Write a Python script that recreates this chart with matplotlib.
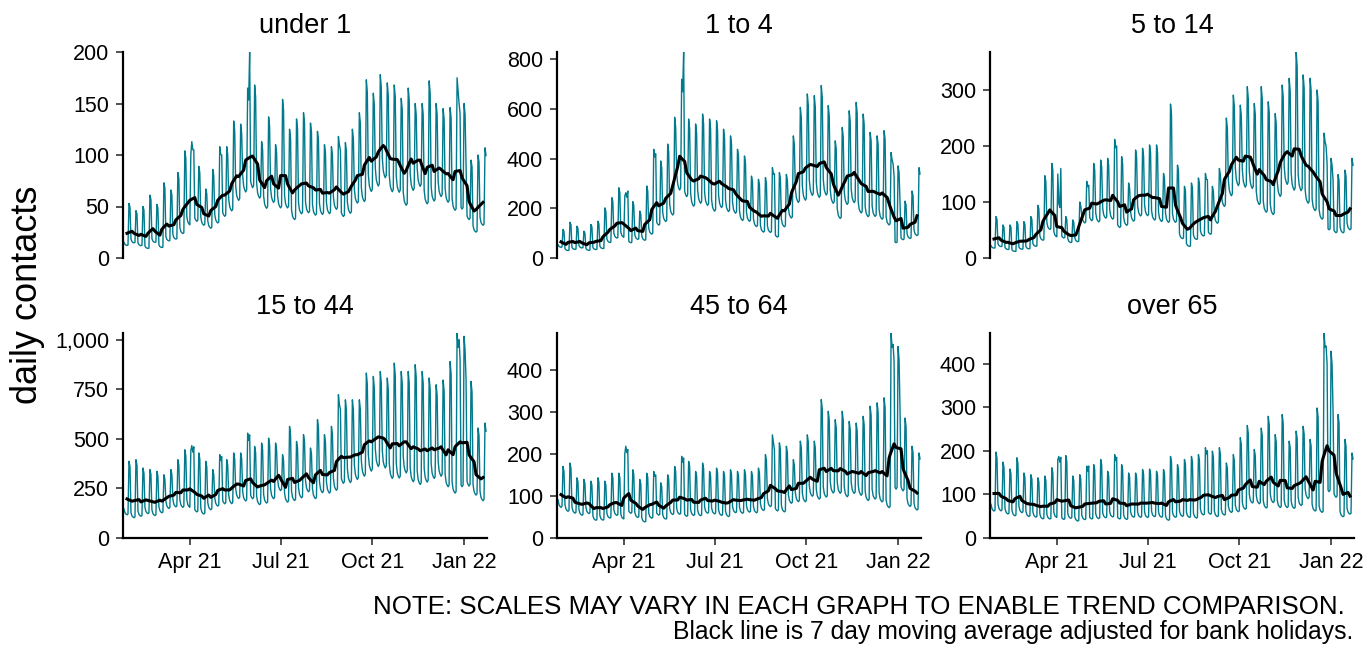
import matplotlib
matplotlib.use('Agg')
import matplotlib.pyplot as plt
import matplotlib.dates as mdates
import matplotlib.ticker as mticker
import numpy as np
import pandas as pd

plt.rcParams['font.family'] = ['Liberation Sans', 'DejaVu Sans']

# weekly data, week starting Monday 25 Jan 2021
start = pd.Timestamp('2021-01-25')

titles = ['under 1', '1 to 4', '5 to 14', '15 to 44', '45 to 64', 'over 65']

# weekend (Saturday) peak per week
peak_u1 = [53, 46, 50, 61, 52, 73, 66, 83, 104, 113, 89, 67, 86, 108, 108, 133, 130, 165, 168, 113,
           137, 110, 154, 125, 135, 141, 131, 123, 110, 108, 118, 112, 125, 141, 173, 160, 178, 170, 168, 155,
           165, 150, 150, 172, 150, 145, 146, 175, 150, 95, 100, 107]
peak_1_4 = [115, 144, 128, 108, 135, 148, 202, 243, 283, 263, 227, 189, 290, 438, 391, 459, 567, 720, 560, 540,
            580, 560, 553, 519, 492, 438, 411, 330, 317, 324, 364, 344, 337, 492, 607, 661, 654, 695, 614, 472,
            526, 593, 627, 580, 506, 492, 513, 425, 371, 229, 270, 364]
peak_5_14 = [74, 59, 59, 65, 65, 74, 94, 147, 169, 97, 74, 68, 100, 137, 169, 175, 178, 212, 181, 134,
             193, 196, 202, 202, 151, 275, 166, 128, 134, 143, 151, 128, 160, 250, 291, 273, 306, 276, 306, 279,
             258, 309, 321, 368, 327, 321, 300, 223, 178, 149, 157, 178]
peak_15_44 = [387, 395, 353, 345, 336, 319, 345, 395, 445, 466, 429, 387, 345, 420, 395, 429, 429, 529, 462, 479,
              504, 479, 420, 563, 487, 521, 454, 597, 521, 563, 723, 697, 697, 697, 832, 815, 840, 807, 882, 840,
              840, 874, 840, 807, 773, 797, 890, 1034, 1017, 790, 555, 580]
peak_45_64 = [170, 178, 143, 139, 135, 143, 135, 154, 154, 218, 162, 139, 154, 158, 131, 150, 170, 194, 182, 158,
              178, 158, 166, 158, 162, 158, 162, 158, 166, 198, 245, 226, 218, 186, 230, 245, 230, 329, 301, 281,
              301, 277, 273, 289, 313, 321, 333, 487, 455, 285, 218, 202]
peak_65 = [197, 174, 158, 184, 149, 145, 138, 142, 161, 187, 189, 142, 145, 165, 168, 180, 153, 191, 168, 149,
           149, 157, 158, 153, 157, 187, 168, 180, 187, 191, 207, 199, 207, 172, 191, 230, 258, 203, 252, 279,
           237, 283, 222, 245, 256, 226, 298, 470, 428, 283, 226, 195]

# weekly average (bank holiday adjusted)
avg_u1 = [24, 24, 23, 24, 26, 28, 31, 37, 47, 56, 52, 43, 46, 56, 61, 72, 79, 95, 99, 76,
          75, 72, 80, 72, 66, 72, 70, 66, 63, 63, 69, 62, 68, 80, 90, 94, 103, 107, 96, 92,
          85, 92, 95, 88, 84, 86, 82, 84, 78, 55, 47, 54]
avg_1_4 = [65, 63, 62, 61, 61, 67, 85, 115, 140, 137, 110, 110, 135, 195, 210, 240, 290, 410, 345, 310,
           330, 318, 298, 300, 280, 260, 230, 205, 185, 170, 180, 160, 190, 260, 340, 362, 375, 380, 365, 300,
           268, 330, 345, 300, 268, 265, 262, 220, 150, 120, 135, 170]
avg_5_14 = [34, 32, 28, 27, 30, 33, 42, 65, 86, 56, 48, 40, 50, 86, 98, 98, 104, 112, 92, 82,
            104, 112, 114, 108, 92, 125, 95, 62, 53, 65, 72, 68, 92, 140, 166, 175, 182, 172, 158, 140,
            131, 170, 190, 195, 183, 164, 148, 115, 88, 76, 78, 88]
avg_15_44 = [197, 188, 182, 190, 180, 186, 210, 230, 242, 248, 220, 200, 205, 240, 242, 252, 272, 290, 280, 262,
             275, 285, 300, 295, 280, 300, 305, 318, 320, 330, 385, 405, 408, 420, 470, 485, 510, 495, 475, 465,
             485, 460, 440, 440, 445, 460, 445, 460, 480, 420, 320, 305]
avg_45_64 = [103, 98, 85, 80, 82, 72, 70, 79, 84, 95, 90, 76, 72, 80, 78, 76, 90, 97, 90, 85,
             90, 89, 90, 85, 84, 90, 90, 91, 92, 105, 125, 112, 108, 115, 130, 134, 140, 162, 158, 160,
             165, 152, 157, 158, 155, 160, 158, 190, 215, 165, 118, 107]
avg_65 = [102, 96, 86, 90, 86, 78, 75, 73, 78, 88, 85, 74, 70, 78, 80, 84, 78, 90, 80, 74,
          78, 80, 80, 80, 80, 83, 83, 88, 88, 88, 98, 97, 95, 88, 98, 110, 122, 118, 130, 130,
          128, 132, 115, 120, 128, 132, 130, 175, 200, 150, 100, 96]

bank_holidays = pd.to_datetime(['2021-04-02', '2021-04-05', '2021-05-03', '2021-05-31',
                                '2021-08-30', '2021-12-27', '2021-12-28', '2022-01-03'])
hol_u1 = [100, 105, 100, 200, 105, 150, 140, 90]
hol_1_4 = [250, 270, 420, 830, 340, 380, 330, 220]
hol_5_14 = [150, 160, 130, 200, 140, 200, 170, 140]
hol_15_44 = [440, 460, 410, 520, 650, 1000, 900, 800]
hol_45_64 = [200, 210, 150, 190, 210, 460, 420, 300]
hol_65 = [180, 185, 165, 185, 200, 440, 400, 290]

# day of week pattern: Mon..Fri relative level, Sunday relative to Saturday
weekday_shape = [1.15, 1.0, 0.95, 0.92, 0.95]
sunday_share = 0.93

panels = [(peak_u1, avg_u1, hol_u1), (peak_1_4, avg_1_4, hol_1_4), (peak_5_14, avg_5_14, hol_5_14),
          (peak_15_44, avg_15_44, hol_15_44), (peak_45_64, avg_45_64, hol_45_64), (peak_65, avg_65, hol_65)]
tick_steps = [50, 200, 100, 250, 100, 100]


def build(peak, avg, hol):
    vals = []
    for p, a in zip(peak, avg):
        sat, sun = p, p * sunday_share
        wk = (7 * a - sat - sun) / sum(weekday_shape)
        vals += [wk * s for s in weekday_shape] + [sat, sun]
    dates = pd.date_range(start, periods=len(vals), freq='D')
    adjusted = pd.Series(vals, index=dates)
    daily = adjusted.copy()
    daily[bank_holidays] = hol
    ma = adjusted.rolling(7, center=True).mean()
    return daily, ma


W, H = 1367, 648
lefts = [123, 557, 990]
width = 364
rows = [(52, 258), (333, 538)]
teal = '#007A8C'

fig = plt.figure(figsize=(W / 100, H / 100), dpi=100)

for i, (peak, avg, hol) in enumerate(panels):
    r, c = divmod(i, 3)
    top, bot = rows[r]
    ax = fig.add_axes([lefts[c] / W, 1 - bot / H, width / W, (bot - top) / H])
    daily, ma = build(peak, avg, hol)
    ax.plot(daily.index, daily.values, color=teal, lw=1.0)
    ax.plot(ma.index, ma.values, color='black', lw=2.2)
    ax.set_ylim(0, daily.max())
    ax.set_xlim(pd.Timestamp('2021-01-24'), pd.Timestamp('2022-01-24'))
    ax.yaxis.set_major_locator(mticker.MultipleLocator(tick_steps[i]))
    ax.yaxis.set_major_formatter(mticker.FuncFormatter(lambda v, p: f'{v:,.0f}'))
    ax.xaxis.set_major_locator(mdates.MonthLocator(bymonth=[1, 4, 7, 10]))
    ax.xaxis.set_major_formatter(mdates.DateFormatter('%b %y'))
    for s in ['top', 'right']:
        ax.spines[s].set_visible(False)
    ax.spines['left'].set_linewidth(1.6)
    ax.spines['bottom'].set_linewidth(1.6)
    ax.tick_params(axis='both', labelsize=15.5, length=5, width=1.2, color='#333333',
                   labelcolor='black', pad=5)
    if r == 0:
        ax.spines['bottom'].set_visible(False)
        ax.tick_params(axis='x', bottom=False, labelbottom=False)
    ax.set_title(titles[i], fontsize=19.5, pad=14)

fig.text(28 / W, 1 - 295 / H, 'daily contacts', rotation=90, fontsize=26,
         ha='center', va='center')
fig.text(1345 / W, 1 - 607 / H, 'NOTE: SCALES MAY VARY IN EACH GRAPH TO ENABLE TREND COMPARISON.',
         fontsize=18.6, ha='right', va='center')
fig.text(1353 / W, 1 - 632 / H, 'Black line is 7 day moving average adjusted for bank holidays.',
         fontsize=17.8, ha='right', va='center')

fig.savefig('out.png', dpi=100)
